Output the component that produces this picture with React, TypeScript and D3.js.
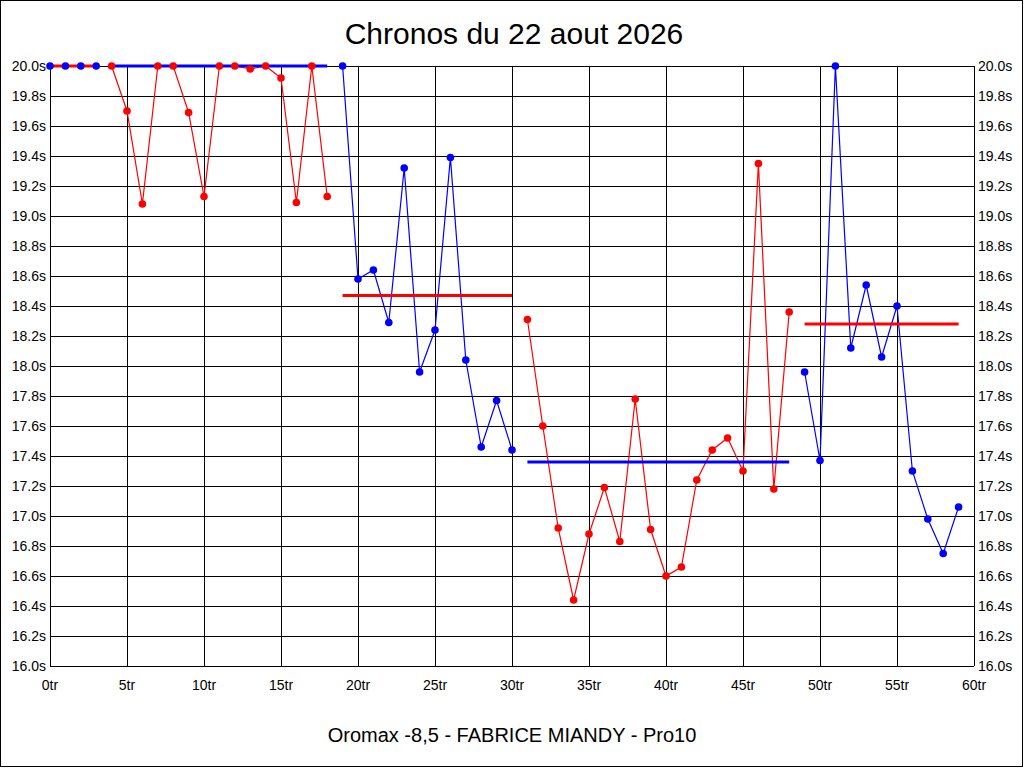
import React from 'react';
import * as d3 from 'd3';

// Lap times, one series per stint (first lap index + times in seconds)
const stintStarts = [0, 4, 19, 31, 49];
const stint1Times = [20.0, 20.0, 20.0, 20.0];
const stint2Times = [20.0, 19.70, 19.08, 20.0, 20.0, 19.69, 19.13, 20.0, 20.0, 19.98, 20.0, 19.92, 19.09, 20.0, 19.13];
const stint3Times = [20.0, 18.58, 18.64, 18.29, 19.32, 17.96, 18.24, 19.39, 18.04, 17.46, 17.77, 17.44];
const stint4Times = [18.31, 17.60, 16.92, 16.44, 16.88, 17.19, 16.83, 17.78, 16.91, 16.60, 16.66, 17.24, 17.44, 17.52, 17.30, 19.35, 17.18, 18.36];
const stint5Times = [17.96, 17.37, 20.0, 18.12, 18.54, 18.06, 18.40, 17.30, 16.98, 16.75, 17.06];
const stintAverages = [20.0, 20.0, 18.47, 17.36, 18.28];
const pointColors = ['#0000ff', '#ff0000', '#0000ff', '#ff0000', '#0000ff'];
const averageColors = ['#ff0000', '#0000ff', '#ff0000', '#0000ff', '#ff0000'];

const yTicks = d3.range(0, 21).map((i) => 16 + i * 0.2);
const xTicks = d3.range(0, 61, 5);

const title = 'Chronos du 22 aout 2026';
const subtitle = 'Oromax -8,5 - FABRICE MIANDY - Pro10';

const width = 1024;
const height = 768;
const margin = { top: 66, right: 50, bottom: 102, left: 50 };

const App: React.FC = () => {
    const innerRight = width - margin.right;
    const innerBottom = height - margin.bottom;

    const xScale = d3.scaleLinear().domain([0, 60]).range([margin.left, innerRight]);
    const yScale = d3.scaleLinear().domain([16, 20]).range([innerBottom, margin.top]);

    const stints = [stint1Times, stint2Times, stint3Times, stint4Times, stint5Times].map((times, i) =>
        times.map((t, j) => ({ lap: stintStarts[i] + j, t }))
    );

    const line = d3.line<{ lap: number; t: number }>()
        .x((d) => xScale(d.lap))
        .y((d) => yScale(d.t));

    const font = 'Arial, "Liberation Sans", sans-serif';

    return (
        <div style={{ position: 'absolute', left: 0, top: 0 }}>
            <svg width={width} height={height} style={{ display: 'block', background: '#fff' }}>
                <rect x={0.5} y={0.5} width={1022} height={766} fill="#fff" stroke="#000" />

                {/* grid */}
                {yTicks.map((v) => (
                    <line key={'gy' + v} x1={margin.left} x2={innerRight}
                        y1={Math.round(yScale(v)) + 0.5} y2={Math.round(yScale(v)) + 0.5}
                        stroke="#000" strokeWidth={1} />
                ))}
                {xTicks.map((v) => (
                    <line key={'gx' + v} x1={Math.round(xScale(v)) + 0.5} x2={Math.round(xScale(v)) + 0.5}
                        y1={margin.top} y2={innerBottom} stroke="#000" strokeWidth={1} />
                ))}

                {/* tick labels */}
                {yTicks.map((v) => (
                    <g key={'ly' + v} fontFamily={font} fontSize={14} fill="#000">
                        <text x={margin.left - 4} y={yScale(v) + 5} textAnchor="end">{v.toFixed(1) + 's'}</text>
                        <text x={innerRight + 4} y={yScale(v) + 5} textAnchor="start">{v.toFixed(1) + 's'}</text>
                    </g>
                ))}
                {xTicks.map((v) => (
                    <text key={'lx' + v} x={xScale(v)} y={innerBottom + 24} textAnchor="middle"
                        fontFamily={font} fontSize={14} fill="#000">{v + 'tr'}</text>
                ))}

                {/* lap lines */}
                {stints.map((pts, i) => (
                    <path key={'l' + i} d={line(pts) || ''} fill="none" stroke={pointColors[i]} strokeWidth={1.2} />
                ))}

                {/* stint averages */}
                {stints.map((pts, i) => (
                    <line key={'a' + i}
                        x1={xScale(pts[0].lap)} x2={xScale(pts[pts.length - 1].lap)}
                        y1={yScale(stintAverages[i])} y2={yScale(stintAverages[i])}
                        stroke={averageColors[i]} strokeWidth={3} />
                ))}

                {/* lap points */}
                {stints.map((pts, i) => (
                    <g key={'p' + i} fill={pointColors[i]}>
                        {pts.map((d) => (
                            <circle key={d.lap} cx={xScale(d.lap)} cy={yScale(d.t)} r={3.8} />
                        ))}
                    </g>
                ))}

                <text x={width / 2 + 2} y={44} textAnchor="middle" fontFamily={font} fontSize={30} fill="#000">{title}</text>
                <text x={width / 2} y={742} textAnchor="middle" fontFamily={font} fontSize={20} fill="#000">{subtitle}</text>
            </svg>
        </div>
    );
};

export default App;
